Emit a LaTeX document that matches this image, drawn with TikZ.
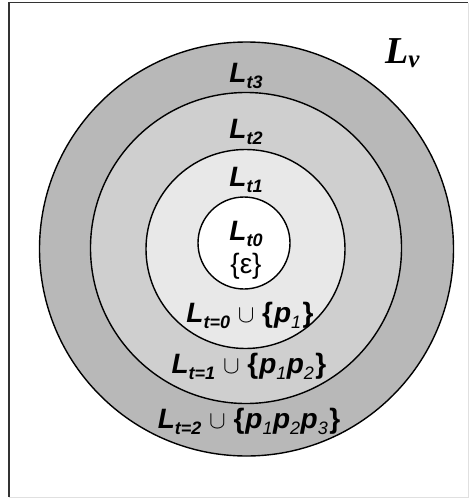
\documentclass[tikz,border=0pt]{standalone}
\usepackage{fontspec}
\setmainfont{Liberation Sans}
\newfontfamily\timesfont{Liberation Serif}

\definecolor{ringthree}{gray}{0.72}
\definecolor{ringtwo}{gray}{0.81}
\definecolor{ringone}{gray}{0.91}

\newcommand{\sub}[1]{\raisebox{-0.22em}{\fontsize{18}{18}\selectfont #1}}
\newcommand{\psub}[1]{\raisebox{-0.22em}{\fontsize{18}{18}\selectfont\mdseries #1}\kern0.5pt}
\newcommand{\lb}{\textup{\{}\kern1pt}
\newcommand{\rb}{\kern1pt\textup{\}}}

\begin{document}
\begin{tikzpicture}[x=1pt, y=-1pt,
        ring/.style={draw=black, line width=1.4pt},
        lab/.style={font=\fontsize{28}{30}\selectfont\bfseries\itshape,
            inner sep=0pt, anchor=base}]

    \useasboundingbox (0,0) rectangle (469,498);

    % frame
    \draw[line width=1.5pt, black!80] (9,497) -- (9,2.5) -- (468,2.5);
    \draw[line width=1pt, black!12] (9,497) -- (468,497) -- (468,2.5);

    % rings, outside in
    \filldraw[ring, fill=ringthree] (246.5,249) circle (207);
    \filldraw[ring, fill=ringtwo] (246,248) circle (155.5);
    \filldraw[ring, fill=ringone] (245.5,249) circle (99.5);
    \filldraw[ring, fill=white] (244,243) circle (46);

    % ring names
    \node[lab] (lt3) at (246,82) {L\sub{t3}};
    \node[lab] (lt2) at (246,138) {L\sub{t2}};
    \node[lab] (lt1) at (246,186) {L\sub{t1}};
    \node[lab] (lt0) at (246,240) {L\sub{t0}};
    \node[lab, font=\fontsize{28}{30}\selectfont] (eps) at (246,273) {\{ε\}};

    % ring contents
    \node[lab] (pone) at (250,322) {L\sub{t=0} $\cup$ \lb p\psub{1}\rb};
    \node[lab] (ptwo) at (249,373) {L\sub{t=1} $\cup$ \lb p\psub{1}p\psub{2}\rb};
    \node[lab] (pthree) at (249,428) {L\sub{t=2} $\cup$ \lb p\psub{1}p\psub{2}p\psub{3}\rb};

    % whole set
    \node[lab, anchor=base west, font=\fontsize{38}{40}\selectfont\timesfont\bfseries\itshape]
        (lv) at (385,63) {L\raisebox{-4pt}{\fontsize{25}{25}\selectfont v}};
\end{tikzpicture}
\end{document}
